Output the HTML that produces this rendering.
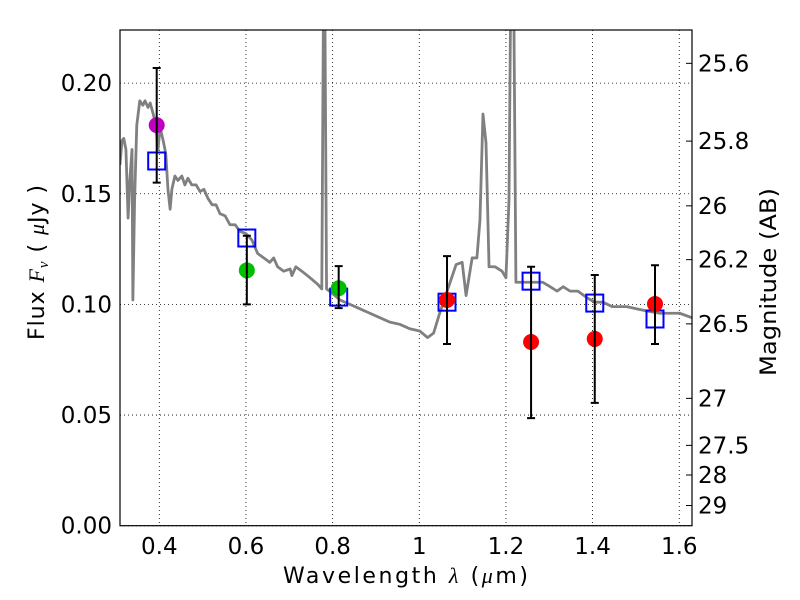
<!DOCTYPE html>
<html><head><meta charset="utf-8"><style>
body{margin:0;background:#fff;}
svg{display:block;font-family:"DejaVu Sans","Liberation Sans",sans-serif;}
</style></head><body>
<svg id="chart" width="800" height="600" viewBox="0 0 800 600" xmlns="http://www.w3.org/2000/svg">
<defs><clipPath id="clip"><rect x="120" y="30" width="572" height="495.7"/></clipPath></defs>
<rect width="800" height="600" fill="#fff"/>
<g id="grid"></g>
<g id="spec" clip-path="url(#clip)"></g>
<g id="marks" clip-path="url(#clip)"></g>
<rect x="120" y="30" width="572" height="495.7" fill="none" stroke="#000" stroke-width="1.2"/>
<g id="axes"></g>
<text x="283" y="583" font-size="22" textLength="245" lengthAdjust="spacing">Wavelength  <tspan font-style="italic" font-family="Liberation Serif, serif">λ</tspan> (<tspan font-style="italic" font-family="Liberation Serif, serif">μ</tspan>m)</text>
<text transform="translate(44,340) rotate(-90)" font-size="22" textLength="155" lengthAdjust="spacing">Flux  <tspan font-style="italic" font-family="Liberation Serif, serif">F<tspan font-size="15" dy="4">ν</tspan></tspan><tspan dy="-4">  ( </tspan><tspan font-style="italic" font-family="Liberation Serif, serif">μ</tspan>Jy )</text>
<text transform="translate(776,376) rotate(-90)" font-size="22" textLength="188" lengthAdjust="spacingAndGlyphs">Magnitude (AB)</text>
</svg>
<script>
const xTicks=[0.4,0.6,0.8,1.0,1.2,1.4,1.6];
const xTickLabels=["0.4","0.6","0.8","1","1.2","1.4","1.6"];
const yTicks=[0,0.05,0.1,0.15,0.2];
const yTickLabels=["0.00","0.05","0.10","0.15","0.20"];
const magTicks=[25.6,25.8,26,26.2,26.5,27,27.5,28,29];
const magTickLabels=["25.6","25.8","26","26.2","26.5","27","27.5","28","29"];
const specWave=[0.309,0.314,0.318,0.323,0.328,0.332,0.337,0.339,0.343,0.348,0.355,0.362,0.367,0.374,0.379,0.386,0.392,0.397,0.402,0.409,0.415,0.420,0.425,0.429,0.436,0.443,0.452,0.459,0.466,0.475,0.485,0.494,0.503,0.512,0.522,0.531,0.540,0.552,0.563,0.575,0.586,0.600,0.614,0.627,0.641,0.655,0.664,0.673,0.687,0.702,0.706,0.715,0.729,0.748,0.766,0.775,0.779,0.782,0.786,0.799,0.817,0.840,0.863,0.886,0.909,0.932,0.955,0.978,1.001,1.019,1.033,1.047,1.066,1.085,1.099,1.108,1.122,1.133,1.140,1.147,1.154,1.161,1.175,1.191,1.200,1.207,1.211,1.218,1.223,1.248,1.285,1.302,1.318,1.332,1.348,1.366,1.387,1.405,1.424,1.445,1.479,1.502,1.525,1.555,1.601,1.629];
const specFlux=[0.163,0.174,0.175,0.170,0.139,0.156,0.170,0.102,0.147,0.181,0.192,0.190,0.192,0.189,0.191,0.186,0.181,0.170,0.180,0.174,0.168,0.152,0.143,0.152,0.158,0.156,0.158,0.154,0.157,0.154,0.154,0.151,0.152,0.148,0.145,0.145,0.141,0.140,0.136,0.136,0.133,0.132,0.129,0.123,0.121,0.119,0.121,0.117,0.115,0.116,0.113,0.117,0.115,0.112,0.109,0.107,0.24,0.24,0.107,0.105,0.102,0.100,0.098,0.096,0.094,0.092,0.091,0.089,0.088,0.085,0.087,0.096,0.107,0.118,0.119,0.104,0.121,0.121,0.138,0.186,0.173,0.117,0.117,0.115,0.112,0.147,0.24,0.24,0.110,0.110,0.110,0.108,0.106,0.108,0.106,0.106,0.103,0.101,0.101,0.099,0.099,0.098,0.097,0.096,0.096,0.094];
const bandWave=[0.394,0.602,0.814,1.064,1.258,1.405,1.544];
const modelFlux=[0.1648,0.130,0.1033,0.101,0.1105,0.1006,0.0934];
const obsFlux=[0.181,0.1154,0.1073,0.102,0.083,0.0844,0.1002];
const errHigh=[0.2068,0.131,0.1173,0.1218,0.117,0.1133,0.1177];
const errLow=[0.155,0.100,0.0983,0.0821,0.0486,0.0555,0.0821];
const obsColors=["#bf00bf","#00bf00","#00bf00","#ff0000","#ff0000","#ff0000","#ff0000"];

const X=v=>159.3+(v-0.4)*433.3;
const Y=v=>525.7-v*2213;
const NS="http://www.w3.org/2000/svg";
function mk(tag,attrs,parent){const e=document.createElementNS(NS,tag);for(const k in attrs)e.setAttribute(k,attrs[k]);parent.appendChild(e);return e;}
const grid=document.getElementById('grid'),axes=document.getElementById('axes');
xTicks.forEach((t,i)=>{
  const g=mk('line',{x1:X(t),x2:X(t),y1:30,y2:525.7,stroke:'#000','stroke-width':0.8,'stroke-dasharray':'1,3'},grid);
  
  
  const tk=mk('text',{x:X(t),y:554,'font-size':23,'text-anchor':'middle'},axes);
  tk.textContent=xTickLabels[i];
  
  
});
yTicks.forEach((t,i)=>{
  const g=mk('line',{x1:120,x2:692,y1:Y(t),y2:Y(t),stroke:'#000','stroke-width':0.8,'stroke-dasharray':'1,3'},grid);
  
  
  const tk=mk('text',{x:112,y:Y(t)+8,'font-size':23,'text-anchor':'end'},axes);
  tk.textContent=yTickLabels[i];
  
  
});
magTicks.forEach((m,i)=>{
  const f=Math.pow(10,(23.9-m)/2.5);
  const tl=mk('line',{x1:686,x2:692,y1:Y(f),y2:Y(f),stroke:'#000','stroke-width':1},axes);
  
  
  const tk=mk('text',{x:698,y:Y(f)+8,'font-size':23},axes);
  tk.textContent=magTickLabels[i];
  
  
});
const spec=document.getElementById('spec');
const pl=mk('polyline',{points:specWave.map((w,i)=>X(w)+','+Y(specFlux[i])).join(' '),fill:'none',stroke:'#808080','stroke-width':2.8,'stroke-linejoin':'round'},spec);


const marks=document.getElementById('marks');
bandWave.forEach((w,i)=>{
  const sq=mk('rect',{x:X(w)-8.5,y:Y(modelFlux[i])-8.5,width:17,height:17,fill:'none',stroke:'#0000ff','stroke-width':2},marks);
  
  
});
bandWave.forEach((w,i)=>{
  const c=mk('circle',{cx:X(w),cy:Y(obsFlux[i]),r:8,fill:obsColors[i]},marks);
  
  
});
bandWave.forEach((w,i)=>{
  const x=X(w);
  const eb=mk('path',{d:`M${x},${Y(errHigh[i])}V${Y(errLow[i])}M${x-4},${Y(errHigh[i])}H${x+4}M${x-4},${Y(errLow[i])}H${x+4}`,stroke:'#000','stroke-width':2,fill:'none'},marks);
  
  
});
</script>
</body></html>
